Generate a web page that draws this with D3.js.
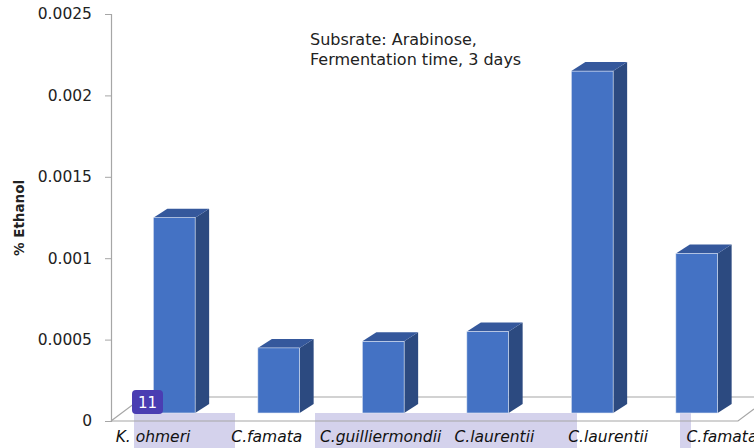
<!DOCTYPE html>
<html>
<head>
<meta charset="utf-8">
<script src="https://cdn.jsdelivr.net/npm/d3@7"></script>
<style>
  body { margin: 0; background: #fff; }
  svg { display: block; font-family: "DejaVu Sans", sans-serif; }
</style>
</head>
<body>
<svg id="chart" width="754" height="448"></svg>
<script>
const strains = ["K. ohmeri", "C.famata", "C.guilliermondii", "C.laurentii", "C.laurentii", "C.famata"];
const ethanol = [0.0012, 0.0004, 0.00044, 0.0005, 0.0021, 0.00098];
const yTicks = [0, 0.0005, 0.001, 0.0015, 0.002, 0.0025];
const tickLabels = ["0", "0.0005", "0.001", "0.0015", "0.002", "0.0025"];
const note = ["Subsrate: Arabinose,", "Fermentation time, 3 days"];

const svg = d3.select("#chart");

// 3D depth offset of the bars / floor
const dx = 14, dy = -9, lift = 8;

let y = d3.scaleLinear().domain([0, 0.0025]).range([421, 14]);
let x = d3.scaleBand().domain(d3.range(strains.length)).range([122, 749]).paddingInner(0.6).paddingOuter(0.3);
let xLabel = d3.scalePoint().domain(d3.range(strains.length)).range([153, 722]);

// selection overlay boxes behind labels (lavender)
let marks = svg.append("g").attr("class", "overlay");
marks.append("rect").attr("x", 134).attr("y", 413).attr("width", 101).attr("height", 35).attr("fill", "#d4d2ec");
marks.append("rect").attr("x", 315).attr("y", 413).attr("width", 262).attr("height", 35).attr("fill", "#d4d2ec");
marks.append("rect").attr("x", 680).attr("y", 413).attr("width", 11).attr("height", 35).attr("fill", "#d4d2ec");

// floor
let floor = svg.append("g").attr("class", "floor").attr("fill", "none").attr("stroke", "#a6a6a6").attr("stroke-width", 1.2);
floor.append("path").attr("d", `M111,${y(0)} L738,${y(0)} L754,409`);
floor.append("path").attr("d", `M111,${y(0)} L143,${y(0) - 24} L754,${y(0) - 24}`);

// y axis
let axis = svg.append("g").attr("class", "axis")
  .attr("transform", "translate(111,0)")
  .call(d3.axisLeft(y).tickValues(yTicks).tickFormat((d, i) => tickLabels[i]).tickSize(6).tickPadding(13));
axis.select(".domain").attr("stroke", "#a6a6a6").attr("stroke-width", 1.2);
axis.selectAll(".tick line").attr("stroke", "#a6a6a6");
axis.selectAll(".tick text").attr("font-size", 15.5).attr("fill", "#222").attr("font-family", "DejaVu Sans, sans-serif");

svg.append("text")
  .attr("transform", "translate(24,218) rotate(-90)")
  .attr("text-anchor", "middle")
  .attr("font-size", 13.5)
  .attr("font-weight", "bold")
  .attr("fill", "#222")
  .text("% Ethanol");

// bars
let bars = svg.append("g").attr("class", "bars")
  .selectAll("g").data(ethanol).enter().append("g");

bars.each(function (v, i) {
  let g = d3.select(this);
  let x0 = x(i), w = x.bandwidth();
  let top = y(v) - lift, base = y(0) - lift;
  g.append("path")
    .attr("d", `M${x0 + w},${top} L${x0 + w + dx},${top + dy} L${x0 + w + dx},${base + dy} L${x0 + w},${base} Z`)
    .attr("fill", "#2c4a80");
  g.append("path")
    .attr("d", `M${x0},${top} L${x0 + dx},${top + dy} L${x0 + w + dx},${top + dy} L${x0 + w},${top} Z`)
    .attr("fill", "#35589c");
  g.append("rect")
    .attr("x", x0).attr("y", top)
    .attr("width", w).attr("height", base - top)
    .attr("fill", "#4472c4")
    .attr("stroke", "#dfe6f3").attr("stroke-width", 0.6);
});

// category labels
svg.append("g").attr("class", "labels")
  .selectAll("text").data(strains).enter().append("text")
  .attr("x", (d, i) => xLabel(i))
  .attr("y", 442)
  .attr("text-anchor", "middle")
  .attr("font-size", 15.5)
  .attr("font-style", "italic")
  .attr("fill", "#111")
  .text(d => d);

// annotation
svg.append("text")
  .attr("x", 310).attr("y", 45)
  .attr("font-size", 16).attr("fill", "#222")
  .selectAll("tspan").data(note).enter().append("tspan")
  .attr("x", 310).attr("dy", (d, i) => i ? 20 : 0)
  .text(d => d);

// "11" badge
svg.append("rect").attr("x", 132).attr("y", 390).attr("width", 31).attr("height", 24).attr("rx", 4).attr("fill", "#4a3db2");
svg.append("text").attr("x", 147.5).attr("y", 408).attr("text-anchor", "middle")
  .attr("font-size", 15).attr("fill", "#fff").text("11");
</script>
</body>
</html>
